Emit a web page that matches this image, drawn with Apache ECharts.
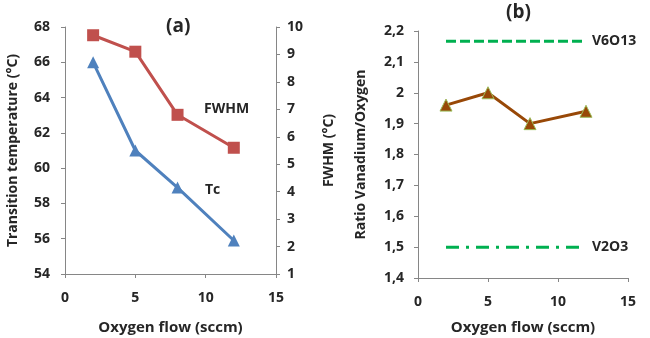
<!DOCTYPE html>
<html>
<head>
<meta charset="utf-8">
<script src="https://cdn.jsdelivr.net/npm/echarts@6/dist/echarts.min.js"></script>
<style>
  html, body { margin: 0; padding: 0; background: #fff; }
  #chart { width: 650px; height: 338px; }
</style>
</head>
<body>
<div id="chart"></div>
<script>
// data
const oxygenFlow = [2, 5, 8, 12];
const tcValues = [66, 61, 58.9, 55.9];
const fwhmValues = [9.7, 9.1, 6.8, 5.6];
const ratioValues = [1.96, 2.0, 1.9, 1.94];
const refRange = [2, 12];
const v6o13Ratio = 2.167;
const v2o3Ratio = 1.5;

const font = 'Open Sans';
const textColor = '#262626';
const axisColor = '#868686';
const blue = '#4f81bd';
const red = '#c0504d';
const brown = '#984807';
const green = '#00b050';

const chart = echarts.init(document.getElementById('chart'));

const label = { color: textColor, fontFamily: font, fontWeight: 'bold', fontSize: 14 };
const axisLine = { show: true, lineStyle: { color: axisColor, width: 1 } };
const axisTick = { show: true, length: 4, lineStyle: { color: axisColor } };

// both panels put the x name on the same baseline, so the gap depends on the grid bottom
function xAxis(gridIndex, nameGap) {
    return {
        type: 'value', gridIndex, min: 0, max: 15, interval: 5,
        axisLine, axisTick, splitLine: { show: false },
        axisLabel: Object.assign({ margin: 17 }, label),
        name: 'Oxygen flow (sccm)', nameLocation: 'middle', nameGap,
        nameTextStyle: Object.assign({}, label, { fontSize: 15 })
    };
}

const pairs = (xs, ys) => xs.map((x, i) => [x, ys[i]]);

chart.setOption({
    animation: false,
    grid: [
        { left: 65, top: 27, width: 211, height: 247, outerBoundsMode: 'none' },
        { left: 418, top: 31, width: 210, height: 247, outerBoundsMode: 'none' }
    ],
    xAxis: [xAxis(0, 46), xAxis(1, 42)],
    yAxis: [
        {
            type: 'value', gridIndex: 0, min: 54, max: 68, interval: 2,
            axisLine, axisTick, splitLine: { show: false },
            axisLabel: Object.assign({ margin: 15 }, label),
            name: 'Transition temperature (°C)', nameLocation: 'middle', nameGap: 45,
            nameTextStyle: label
        },
        {
            type: 'value', gridIndex: 0, position: 'right', min: 1, max: 10, interval: 1,
            axisLine, axisTick, splitLine: { show: false },
            axisLabel: Object.assign({ margin: 11 }, label),
            name: 'FWHM (°C)', nameLocation: 'middle', nameGap: 46,
            nameTextStyle: label
        },
        {
            type: 'value', gridIndex: 1, min: 1.4, max: 2.2, interval: 0.1,
            axisLine, axisTick, splitLine: { show: false },
            axisLabel: Object.assign({
                margin: 14,
                formatter: v => String(+v.toFixed(1)).replace('.', ',')
            }, label),
            name: 'Ratio Vanadium/Oxygen', nameLocation: 'middle', nameGap: 50,
            nameTextStyle: label
        }
    ],
    series: [
        {
            name: 'Tc', type: 'line', xAxisIndex: 0, yAxisIndex: 0,
            data: pairs(oxygenFlow, tcValues),
            symbol: 'triangle', symbolSize: 12,
            lineStyle: { color: blue, width: 3 },
            itemStyle: { color: blue }
        },
        {
            name: 'FWHM', type: 'line', xAxisIndex: 0, yAxisIndex: 1,
            data: pairs(oxygenFlow, fwhmValues),
            symbol: 'rect', symbolSize: 12,
            lineStyle: { color: red, width: 3 },
            itemStyle: { color: red }
        },
        {
            name: 'Ratio', type: 'line', xAxisIndex: 1, yAxisIndex: 2,
            data: pairs(oxygenFlow, ratioValues),
            symbol: 'triangle', symbolSize: 12,
            lineStyle: { color: brown, width: 3 },
            itemStyle: { color: brown, borderColor: '#9bbb59', borderWidth: 1 }
        },
        {
            name: 'V6O13', type: 'line', xAxisIndex: 1, yAxisIndex: 2,
            data: refRange.map(x => [x, v6o13Ratio]),
            symbol: 'none',
            lineStyle: { color: green, width: 3, type: [10, 4] },
            endLabel: Object.assign({ show: true, formatter: 'V6O13', distance: 6 }, label)
        },
        {
            name: 'V2O3', type: 'line', xAxisIndex: 1, yAxisIndex: 2,
            data: refRange.map(x => [x, v2o3Ratio]),
            symbol: 'none',
            lineStyle: { color: green, width: 3, type: [13, 7, 3, 7] },
            endLabel: Object.assign({ show: true, formatter: 'V2O3', distance: 6 }, label)
        }
    ],
    graphic: [
        { type: 'text', left: 166, top: 17, style: { text: '(a)', fill: textColor, font: 'bold 19px ' + font } },
        { type: 'text', left: 506, top: 3, style: { text: '(b)', fill: textColor, font: 'bold 19px ' + font } },
        { type: 'text', left: 204, top: 102, style: { text: 'FWHM', fill: textColor, font: 'bold 14px ' + font } },
        { type: 'text', left: 205, top: 183, style: { text: 'Tc', fill: textColor, font: 'bold 14px ' + font } }
    ]
});

window.addEventListener('resize', () => chart.resize());
</script>
</body>
</html>
